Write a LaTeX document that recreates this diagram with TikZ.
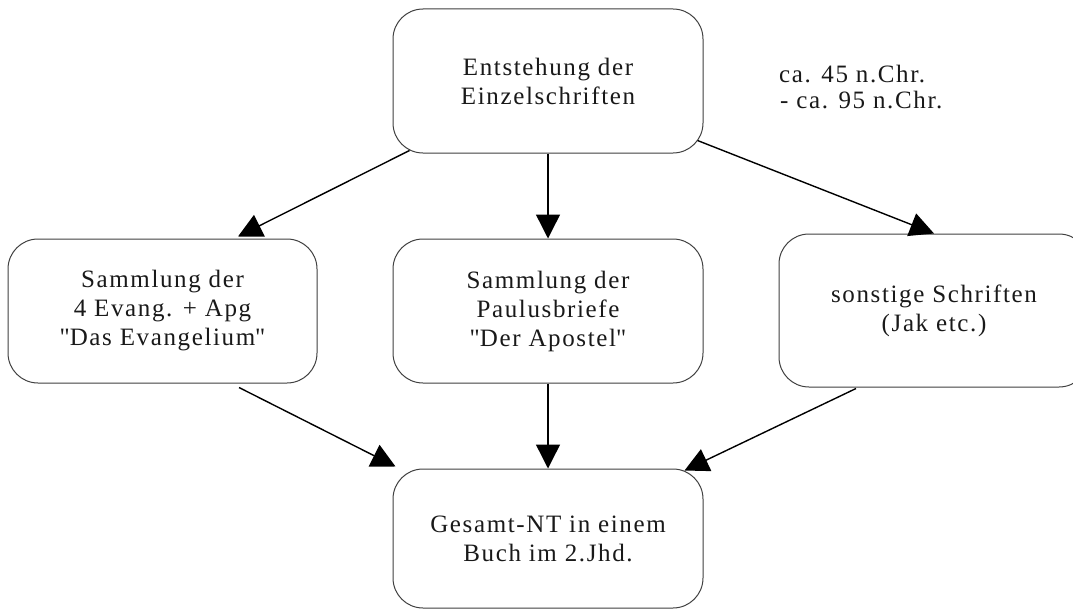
\documentclass[tikz,border=0pt]{standalone}
\usepackage{fontspec}
\setmainfont{Liberation Serif}[LetterSpace=6.5]
\usetikzlibrary{arrows.meta,calc}
\tikzset{
  box/.style={draw=black!75, line width=1pt, rounded corners=30pt, fill=white,
    align=center, inner sep=0pt, font=\fontsize{25}{29}\selectfont, text=black!90},
  arr/.style={line width=1.4pt, draw=black, -{Triangle[length=24pt,width=24pt]}},
  note/.style={anchor=base west, inner sep=0pt, font=\fontsize{25}{29}\selectfont, text=black!90}
}
\begin{document}
\begin{tikzpicture}[x=1pt,y=-1pt]
\useasboundingbox (0,0) rectangle (1073,610);
\node[box, minimum width=310pt, minimum height=144pt] (top) at (548,81) {Entstehung der\\Einzelschriften};
\node[box, minimum width=309pt, minimum height=144pt] (left) at (162.5,311) {Sammlung der\\4 Evang. + Apg\\\textquotedbl Das Evangelium\textquotedbl};
\node[box, minimum width=310pt, minimum height=144pt] (mid) at (548,311) {Sammlung der\\Paulusbriefe\\\textquotedbl Der Apostel\textquotedbl};
\node[box, minimum width=310pt, minimum height=153pt] (right) at (934,310.5) {sonstige Schriften\\(Jak etc.)};
\node[box, minimum width=310pt, minimum height=139pt] (bot) at (548,538.5) {Gesamt-NT in einem\\Buch im 2.Jhd.};
\node[note] (note1) at (779,82) {ca. 45 n.Chr.};
\node[note] (note2) at (780,108.5) {- ca. 95 n.Chr.};
% arrows
\draw[arr] ([xshift=17pt,yshift=3pt]top.south west) -- ([xshift=75.5pt,yshift=2pt]left.north);
\draw[arr] (top.south) -- (mid.north);
\draw[arr] ([xshift=-6pt,yshift=13pt]top.south east) -- (right.north);
\draw[arr] ([xshift=76.5pt,yshift=-4pt]left.south) -- ([xshift=3pt,yshift=2pt]bot.north west);
\draw[arr] (mid.south) -- (bot.north);
\draw[arr] ([xshift=-78pt,yshift=-1pt]right.south) -- ([xshift=-19pt,yshift=-2pt]bot.north east);
\end{tikzpicture}
\end{document}
